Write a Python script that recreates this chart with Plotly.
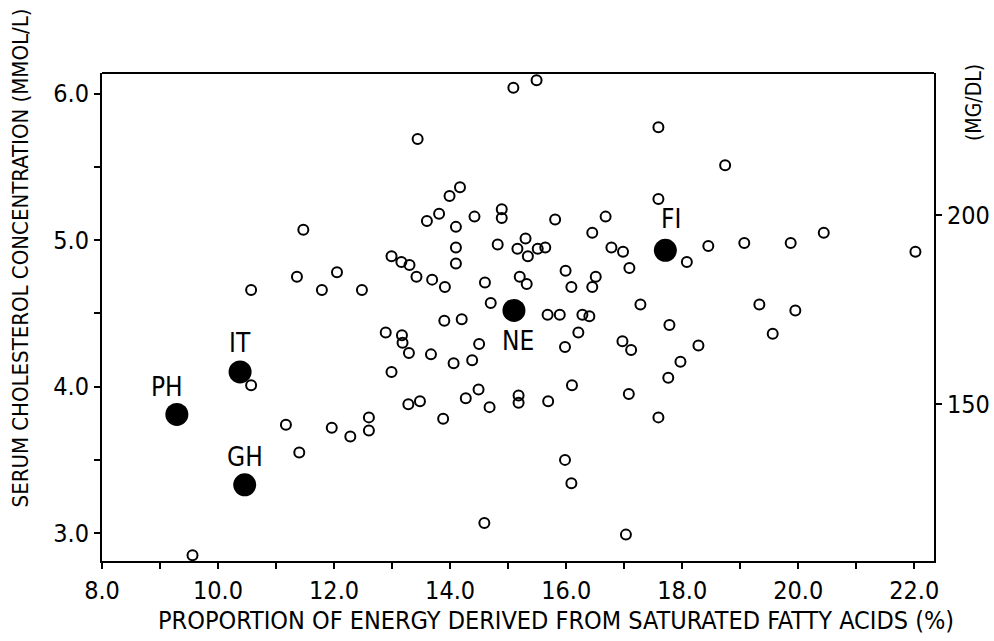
import plotly.graph_objects as go

# Open circles: individual populations (x = % energy from SFA, y = serum cholesterol mmol/L)
sfa_open = [11.47, 11.36, 10.57, 11.79, 12.05, 12.48, 15.09, 15.49, 13.44, 14.17,
            13.99, 13.81, 13.60, 14.42, 14.89, 14.89, 15.81, 16.68, 14.10, 16.45,
            14.82, 15.30, 15.16, 15.34, 15.51, 15.64, 14.10, 16.78, 16.98, 12.99,
            13.16, 13.30, 14.10, 17.09, 13.42, 13.69, 13.91, 15.99, 16.51, 16.45,
            14.60, 15.20, 15.32, 16.09, 17.28, 14.70, 15.68, 15.89, 16.28, 16.40,
            13.90, 14.20, 12.89, 13.17, 13.18, 13.29, 14.50, 13.67, 14.06, 14.38,
            12.99, 15.98, 16.21, 16.97, 17.12, 13.28, 13.48, 13.88, 14.27, 14.49,
            14.68, 15.18, 15.18, 15.69, 16.10, 17.08, 15.98, 16.09, 14.59, 17.03,
            17.59, 18.74, 17.59, 18.08, 18.45, 19.07, 19.87, 20.44, 22.02, 19.33,
            19.95, 17.78, 19.56, 18.28, 17.97, 17.76, 17.59, 10.57, 11.17, 11.40,
            11.96, 12.28, 12.60, 12.60, 9.56]
chol_open = [5.07, 4.75, 4.66, 4.66, 4.78, 4.66, 6.04, 6.09, 5.69, 5.36,
             5.30, 5.18, 5.13, 5.16, 5.21, 5.15, 5.14, 5.16, 5.09, 5.05,
             4.97, 5.01, 4.94, 4.89, 4.94, 4.95, 4.95, 4.95, 4.92, 4.89,
             4.85, 4.83, 4.84, 4.81, 4.75, 4.73, 4.68, 4.79, 4.75, 4.68,
             4.71, 4.75, 4.70, 4.68, 4.56, 4.57, 4.49, 4.49, 4.49, 4.48,
             4.45, 4.46, 4.37, 4.35, 4.30, 4.23, 4.29, 4.22, 4.16, 4.18,
             4.10, 4.27, 4.37, 4.31, 4.25, 3.88, 3.90, 3.78, 3.92, 3.98,
             3.86, 3.94, 3.89, 3.90, 4.01, 3.95, 3.50, 3.34, 3.07, 2.99,
             5.77, 5.51, 5.28, 4.85, 4.96, 4.98, 4.98, 5.05, 4.92, 4.56,
             4.52, 4.42, 4.36, 4.28, 4.17, 4.06, 3.79, 4.01, 3.74, 3.55,
             3.72, 3.66, 3.79, 3.70, 2.85]

# Filled circles: country means
country_codes = ["PH", "IT", "GH", "NE", "FI"]
sfa_country = [9.29, 10.38, 10.46, 15.10, 17.71]
chol_country = [3.81, 4.10, 3.33, 4.52, 4.93]
label_shift_x = [-10, 0, 0, 4, 6]
label_shift_y = [27, 29, 28, -31, 31]

# Axis ticks
x_tickvals = [8, 9, 10, 11, 12, 13, 14, 15, 16, 17, 18, 19, 20, 21, 22]
x_ticktext = ["8.0", "", "10.0", "", "12.0", "", "14.0", "", "16.0", "", "18.0", "", "20.0", "", "22.0"]
y_tickvals = [3.0, 3.5, 4.0, 4.5, 5.0, 5.5, 6.0]
y_ticktext = ["3.0", "", "4.0", "", "5.0", "", "6.0"]
y2_tickvals = [150, 200]
y2_ticktext = ["150", "200"]
MMOL_TO_MGDL = 38.67

FONT = "DejaVu Sans Condensed, Liberation Sans Narrow, DejaVu Sans, sans-serif"

x_range = [8.0, 22.34]
y_range = [2.81, 6.14]

fig = go.Figure()

fig.add_trace(go.Scatter(
    x=sfa_open, y=chol_open, mode="markers",
    marker=dict(symbol="circle-open", size=10, color="black", line=dict(width=2, color="black")),
    showlegend=False, hoverinfo="x+y"))

fig.add_trace(go.Scatter(
    x=sfa_country, y=chol_country, mode="markers",
    marker=dict(symbol="circle", size=23, color="black"),
    showlegend=False, hoverinfo="x+y"))

# invisible trace to activate y2
fig.add_trace(go.Scatter(
    x=[None], y=[None], yaxis="y2", mode="markers", showlegend=False, hoverinfo="skip"))

for code, xv, yv, dx, dy in zip(country_codes, sfa_country, chol_country, label_shift_x, label_shift_y):
    fig.add_annotation(x=xv, y=yv, text=code, showarrow=False,
                       xshift=dx, yshift=dy,
                       font=dict(family=FONT, size=26, color="black"))

axis_common = dict(showline=True, linecolor="black", linewidth=2, mirror=False,
                   showgrid=False, zeroline=False, ticks="outside", tickcolor="black",
                   tickwidth=2, ticklen=6, automargin=False,
                   tickfont=dict(family=FONT, size=25, color="black"))

fig.update_layout(
    width=994, height=641,
    margin=dict(l=102, r=60, t=73, b=80),
    paper_bgcolor="white", plot_bgcolor="white",
    xaxis=dict(range=x_range, tickmode="array", tickvals=x_tickvals, ticktext=x_ticktext,
               **axis_common),
    yaxis=dict(range=y_range, tickmode="array", tickvals=y_tickvals, ticktext=y_ticktext,
               **axis_common),
    yaxis2=dict(overlaying="y", side="right",
                range=[y_range[0] * MMOL_TO_MGDL, y_range[1] * MMOL_TO_MGDL],
                tickmode="array", tickvals=y2_tickvals, ticktext=y2_ticktext,
                **axis_common),
)

# top border
fig.add_shape(type="line", xref="paper", yref="paper", x0=0, x1=1, y0=1, y1=1,
              line=dict(color="black", width=2))

fig.add_annotation(xref="paper", yref="paper", x=0.546, y=-0.121,
                   text="PROPORTION OF ENERGY DERIVED FROM SATURATED FATTY ACIDS (%)",
                   showarrow=False, xanchor="center", yanchor="middle",
                   font=dict(family=FONT, size=25, color="black"))
fig.add_annotation(xref="paper", yref="paper", x=-0.098, y=0.621,
                   text="SERUM CHOLESTEROL CONCENTRATION (MMOL/L)", textangle=-90,
                   showarrow=False, xanchor="center", yanchor="middle",
                   font=dict(family=FONT, size=22, color="black"))
fig.add_annotation(xref="paper", yref="paper", x=1.049, y=0.94,
                   text="(MG/DL)", textangle=-90,
                   showarrow=False, xanchor="center", yanchor="middle",
                   font=dict(family=FONT, size=21, color="black"))

fig.write_html("out.html")
